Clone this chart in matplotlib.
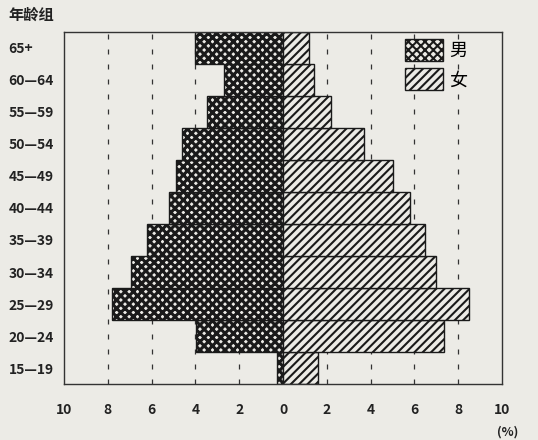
import matplotlib
matplotlib.use("Agg")
import matplotlib.pyplot as plt
from matplotlib.patches import Patch

plt.rcParams['font.family'] = ['Noto Sans CJK SC', 'DejaVu Sans']

age_groups = ["15—19", "20—24", "25—29", "30—34", "35—39", "40—44",
              "45—49", "50—54", "55—59", "60—64", "65+"]
male = [0.27, 3.95, 7.8, 6.95, 6.2, 5.2, 4.9, 4.6, 3.45, 2.7, 4.0]
female = [1.6, 7.35, 8.5, 7.0, 6.5, 5.8, 5.0, 3.7, 2.2, 1.4, 1.2]
xticks = [-10, -8, -6, -4, -2, 0, 2, 4, 6, 8, 10]
xtick_labels = ["10", "8", "6", "4", "2", "0", "2", "4", "6", "8", "10"]
legend_labels = ["男", "女"]

bg = "#ecebe6"
ink = "#1a1a1a"
fig = plt.figure(figsize=(5.38, 4.40), dpi=100, facecolor=bg)
ax = fig.add_axes([64/538, 1-384/440, 438/538, 352/440])
ax.set_facecolor(bg)

y = list(range(len(age_groups)))
male_hlw = 2.2
female_hlw = 1.5
plt.rcParams['hatch.linewidth'] = male_hlw
mb = ax.barh(y, [-v for v in male], height=1.0, color=bg, edgecolor=ink,
             hatch="xxxx", linewidth=1.0)
for p in mb:
    if hasattr(p, "set_hatch_linewidth"):
        p.set_hatch_linewidth(male_hlw)
plt.rcParams['hatch.linewidth'] = female_hlw
fb = ax.barh(y, female, height=1.0, color=bg, edgecolor=ink,
             hatch="////", linewidth=1.0)
for p in fb:
    if hasattr(p, "set_hatch_linewidth"):
        p.set_hatch_linewidth(female_hlw)

for xv in [-8, -6, -4, -2, 2, 4, 6, 8]:
    ax.axvline(xv, color="#333333", linestyle=(0, (4, 8)), linewidth=0.9, zorder=0)

ax.set_xlim(-10, 10)
ax.set_ylim(-0.5, len(age_groups) - 0.5)
ax.set_xticks(xticks)
ax.set_xticklabels(xtick_labels, fontsize=10, fontweight="bold", color="#222222")
ax.set_yticks(y)
ax.set_yticklabels(age_groups, fontsize=10, fontweight="bold", color="#222222")
for lbl in ax.get_yticklabels():
    lbl.set_horizontalalignment("left")
ax.tick_params(axis="x", length=0, pad=14)
ax.tick_params(axis="y", length=0, pad=40)
for s in ax.spines.values():
    s.set_color("#333333")
    s.set_linewidth(1.0)

fig.text(8/538, 1-15/440, "年龄组", fontsize=11, fontweight="bold",
         color="#222222", ha="left", va="center")
fig.text(508/538, 1-432/440, "(%)", fontsize=9, fontweight="bold",
         color="#222222", ha="center", va="center")

plt.rcParams['hatch.linewidth'] = male_hlw
h1 = Patch(facecolor=bg, edgecolor=ink, hatch="xxxx")
if hasattr(h1, "set_hatch_linewidth"):
    h1.set_hatch_linewidth(male_hlw)
plt.rcParams['hatch.linewidth'] = female_hlw
h2 = Patch(facecolor=bg, edgecolor=ink, hatch="////")
if hasattr(h2, "set_hatch_linewidth"):
    h2.set_hatch_linewidth(female_hlw)
leg = ax.legend([h1, h2], legend_labels, loc="upper left",
                bbox_to_anchor=(405/538, 1-39/440), bbox_transform=fig.transFigure,
                frameon=False, fontsize=13, borderpad=0, borderaxespad=0,
                handlelength=2.1, handleheight=1.5, labelspacing=0.4,
                handletextpad=0.35)

fig.savefig("out.png", dpi=100, facecolor=bg)
